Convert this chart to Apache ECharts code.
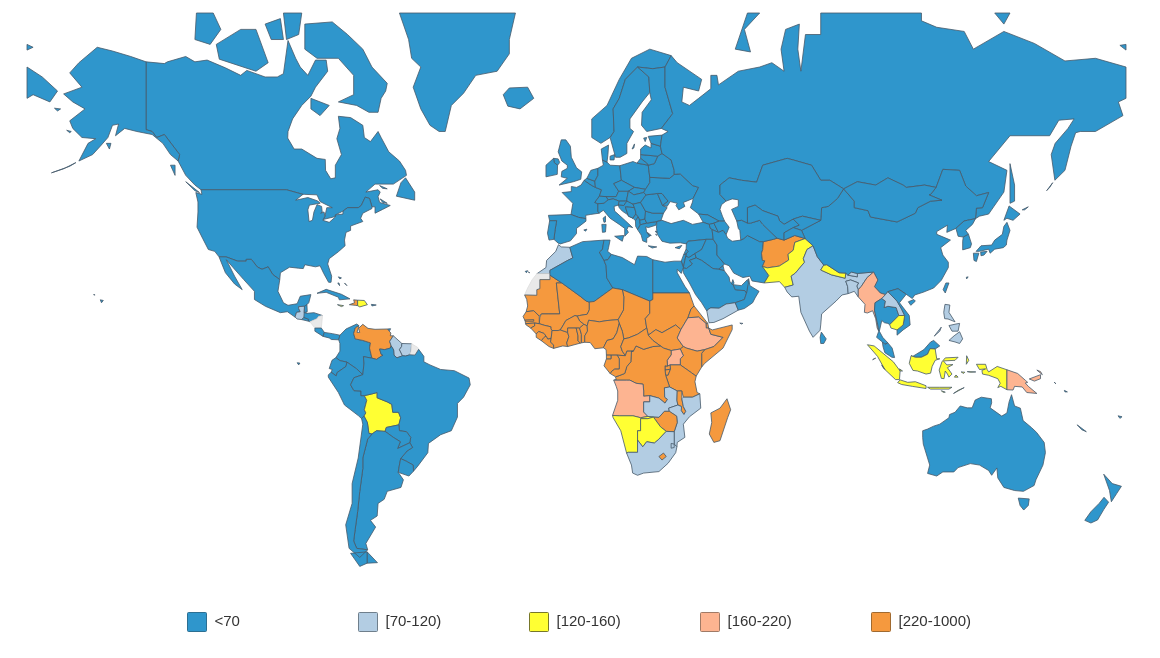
<!DOCTYPE html>
<html><head><meta charset="utf-8">
<style>html,body{margin:0;padding:0;background:#fff}#c{width:1160px;height:658px}</style>
<script src="https://cdn.jsdelivr.net/npm/echarts@6/dist/echarts.min.js"></script>
</head><body><div id="c"></div>
<script>
// Classes and the countries
const classNames = ['<70','[70-120)','[120-160)','[160-220)','[220-1000)'];
const classColors = ['#2f96cc','#b3cde3','#ffff33','#fdb491','#f5993e'];
const legendBorders = ['#2c6f92','#6f7f8c','#77772a','#a07a66','#a06a30'];
const class70to120 = ['Morocco','Yemen','Zambia','Mozambique','South Africa','Swaziland','India','Bangladesh','Bhutan','Laos','Philippines','Guatemala','Guyana','Suriname'];
const class120to160 = ['Bolivia','Namibia','Botswana','Pakistan','Nepal','Cambodia','Indonesia','Dominican Rep.','Jamaica'];
const class160to220 = ['Angola','Ethiopia','Uganda','Myanmar','Papua New Guinea'];
const class220up = ['Afghanistan','Venezuela','Haiti','Mauritania','Mali','Niger','Chad','Sudan','South Sudan','Eritrea','Djibouti','Senegal','Gambia','Guinea-Bissau','Guinea','Sierra Leone','Liberia',"Cote d'Ivoire",'Ghana','Togo','Benin','Burkina Faso','Nigeria','Cameroon','Central African Rep.','Eq. Guinea','Gabon','Congo','DR Congo','Kenya','Tanzania','Somalia','Malawi','Zimbabwe','Madagascar','Lesotho','Rwanda','Burundi'];
const noData = ['Western Sahara','Nicaragua','French Guiana'];

// Simplified country outlines, flat lon,lat rings
const outlines = {
Canada:[[-141,69.6,-135,69.4,-134,69.6,-128,70.2,-125,69.6,-121,69.8,-115,68.9,-110,68,-108,68.6,-102,67.8,-98,67.8,-96,68.2,-94.5,71.9,-92,70,-90.5,69,-88,68,-85.5,69.8,-82,69.8,-81.5,68.5,-85.5,66.5,-87,65.3,-90,64,-93,62,-94.5,60,-94.6,58.9,-92.5,57,-90,57,-85,55.3,-82.3,55.1,-82.2,53,-80.5,51.3,-79,51.5,-79,54,-77,56,-78.5,58.8,-77.5,60.5,-78,62.4,-74,62.2,-70,61,-69.5,59,-67.5,58.3,-65,60,-64,59,-61.5,56.5,-58,54.8,-56,53,-55.7,52,-60,50.2,-66,50.2,-69,48.5,-65,49,-64.3,48.5,-65,47.5,-64.5,46.2,-61,45.5,-63.5,44.6,-66,43.7,-66,45.2,-67,45.2,-67.8,47.1,-69.2,47.4,-70.5,45.5,-71.5,45,-75,45,-76.5,44.2,-79,43.3,-79,42.9,-83,42.2,-82.4,43,-81.8,45,-80,45,-84,46.4,-85,47.9,-89,48,-89.6,48,-95,49,-123,49,-125,50,-128,52,-130.5,54.8,-130,56,-135,59.5,-137.5,59,-139,60,-141,60.3],
[-80,73.7,-75,72.5,-70,71,-67,69,-62,67,-62.5,66,-64,65,-65,63,-68,63,-72,64,-78,64.5,-73,65.5,-73,68,-78,70,-85,70,-89,71,-89,73.5],
[-117,69.9,-105,68.5,-101,69.5,-105,73,-110,73,-118,71.5],[-125,72,-120,71.5,-116.5,73,-119,74.5,-124.5,74.5],[-96,74.5,-90,74.5,-91,72.5,-95,72],[-102,73.5,-97,74,-96,72,-100,72],
[-87,65,-81,64,-84,62.5,-87,63.5],[-59,47.6,-53,46.7,-53,48.5,-56,51.5,-57.5,50.5],[-128,50.7,-123.5,48.4,-125,48.8],[-133,54,-131.5,52,-131.5,54],[-64.5,49.9,-62,49.2,-63.5,49.3],[-64.3,47,-62,46,-63.5,46.2]],
'United States':[[-123,49,-95,49,-89.6,48,-92,46.7,-88,47.3,-85,46.6,-84.5,46.4,-84,46,-85,45.9,-87.5,45.6,-88,44.5,-87.6,41.7,-86.5,42,-86,44,-85,45.7,-83.5,45.3,-83.3,44,-83.8,43.7,-82.7,44,-82.4,43,-83.1,42,-83,41.8,-81,41.5,-79,42.8,-79,43.3,-76.5,43.5,-76.5,44.2,-75,45,-71.5,45,-70.5,45.5,-69.2,47.4,-67.8,47.1,-67,45.2,-67,44.8,-70,43.7,-70.7,42.5,-70,41.7,-74,40.6,-74,39.5,-75.5,39,-76,37,-75.8,35.5,-78,33.9,-81,32,-81.5,30.5,-80.2,27,-80.4,25.2,-81.2,25.2,-82.8,27.8,-84,30,-85.5,29.7,-89,30.3,-89.5,29.2,-91,29.3,-94,29.6,-97,28,-97.2,26,-99.5,27.5,-101,29.7,-103,29,-104.5,29.6,-106.5,31.8,-108.2,31.8,-108.2,31.3,-111,31.3,-114.8,32.5,-117.1,32.5,-118.5,34,-120.6,34.5,-122.5,37.5,-124.3,40.3,-124,44,-124,46.3,-124.7,48.4,-122.7,48],
[-141,69.6,-141,60.3,-139,60,-137.5,59,-135,59.5,-130,56,-130.5,54.8,-133,56,-135.5,58,-139,59.5,-144,60,-148,60.5,-151,59.3,-150,61.2,-152,61,-153.5,59,-156,57.5,-158.5,56,-163,54.8,-160,58,-157.5,58.8,-162,59,-165,60.5,-166,61.7,-161,63.5,-165,64.5,-168,65.6,-162,66.5,-166,68.3,-163,69.5,-157,71.2,-152,70.8,-146,70.2],
[-164,54.5,-168,53.3,-172,52.5,-166,53.8],[-154,58,-152.5,58,-153,57],[-171,63.6,-169,63.5,-170,63.2],[-167,60.2,-165.5,60,-166,59.8],[-156,19.9,-155,19.7,-155.6,19],[-158.2,21.5,-157.7,21.4,-158,21.3]],
Greenland:[[-20,74.5,-22,72,-22,70.5,-26,68.5,-33,68,-37,65.7,-41,64,-43,60,-45,60,-48,61,-51,63.5,-53.5,66.5,-51,69,-54,70,-55,72,-58,74.5]],
Iceland:[[-24,65.5,-22,66.4,-16,66.5,-14,65,-18.5,63.5,-22.5,63.9]],
Mexico:[[-117.1,32.5,-114.8,32.5,-111,31.3,-108.2,31.3,-108.2,31.8,-106.5,31.8,-104.5,29.6,-103,29,-101,29.7,-99.5,27.5,-97.2,26,-97.8,22.5,-96,19,-94.5,18.2,-91.5,18.7,-90.5,21,-87,21.5,-87.7,19,-88.3,18.4,-89.1,17.9,-91,17.8,-91,17.2,-90.5,16.2,-91.7,16,-92.2,14.5,-94.7,16.2,-97,15.9,-101.9,17.9,-105.5,20,-105.5,22.5,-109,26,-112.5,29.5,-114.7,31.7,-112,27,-109.5,23,-112,24.7,-115,28]],
Guatemala:[[-92.2,14.5,-91.7,16,-90.5,16.2,-91,17.2,-91,17.8,-89.1,17.9,-89.2,15.9,-88.2,15.7,-89.3,14.4,-90,13.7,-91.5,13.9]],
Belize:[[-88.3,18.4,-88.2,16.2,-89.2,15.9,-89.1,17.9]],
'El Salvador':[[-90,13.7,-89.3,14.4,-87.7,13.8,-87.8,13.2]],
Honduras:[[-89.2,15.9,-88.2,15.7,-86,15.9,-83.2,15,-84.5,14.7,-85,14,-87.3,13,-87.8,13.2,-87.7,13.8,-89.3,14.4]],
Nicaragua:[[-83.2,15,-83.6,11,-85.7,11,-87.3,13,-85,14,-84.5,14.7]],
'Costa Rica':[[-83.6,11,-82.6,9.6,-83,8.3,-85.7,10,-85.7,11]],
Panama:[[-83,8.3,-82.6,9.6,-80,9.2,-77.5,8.7,-77.9,7.2,-80.3,7.3,-81,7.8]],
Cuba:[[-85,21.9,-82,23.1,-77,21.6,-74.2,20.2,-77.7,19.9,-78,20.7,-82,22.2]],
Jamaica:[[-78.3,18.4,-76.3,18.1,-77,17.8]],
Haiti:[[-74.4,18.4,-72.5,18.2,-71.7,18.1,-71.7,19.8,-73,19.9,-72.7,19]],
'Dominican Rep.':[[-71.7,18.1,-71,17.7,-68.5,18.4,-69.5,19.7,-71.7,19.8]],
'Puerto Rico':[[-67.2,18.5,-65.6,18.3,-67,18]],
Bahamas:[[-78,26.8,-77,26.5,-77.5,26.2],[-78.2,25,-77.6,24.2,-77.8,25],[-76,25,-75.2,24.2,-75.8,24.8]],
Trinidad:[[-61.9,10.7,-60.9,10.8,-61.2,10.1]],
Colombia:[[-77.9,7.2,-77.5,8.7,-75.5,10.7,-72,12.3,-71.3,11.8,-72.5,11,-73,9.2,-72.5,7.5,-70,7,-67.5,6.2,-67.8,4.5,-67,1.2,-69.8,1.7,-69.6,-0.5,-70,-4.2,-72,-2.3,-75.2,-0.1,-77.5,0.4,-78.8,1.4,-77.5,3.5,-77.5,6]],
Venezuela:[[-71.3,11.8,-71.5,10.9,-71.9,9.6,-71,9.6,-71.4,10.9,-70,12.2,-68.3,10.9,-66,10.6,-62,10.7,-60.8,9.4,-61,8.5,-60,8.5,-61.2,6.7,-60.7,5.2,-61,4.5,-62.8,4,-64.5,4.2,-64,2.5,-63.4,2.2,-65.5,0.8,-67,1.2,-67.8,4.5,-67.5,6.2,-70,7,-72.5,7.5,-73,9.2,-72.5,11]],
Guyana:[[-60,8.5,-57.2,6,-57.3,5,-58,4,-57,2,-58.8,1.3,-59.8,2.2,-59.9,3.9,-60.7,5.2,-61.2,6.7]],
Suriname:[[-57.2,6,-54,5.9,-54.2,3.5,-54.6,2.3,-56,1.9,-57,2,-58,4,-57.3,5]],
'French Guiana':[[-54,5.9,-52,4.7,-51.7,4.1,-52.9,2.2,-54.6,2.3,-54.2,3.5]],
Ecuador:[[-78.8,1.4,-77.5,0.4,-75.2,-0.1,-75.5,-1.5,-78.4,-3.5,-78.7,-4.6,-80.4,-3.4,-80,-2.5,-81,-2.2,-80.1,0.5],[-91.5,-0.3,-90.6,-0.4,-91,-1]],
Peru:[[-75.2,-0.1,-72,-2.3,-70,-4.2,-72.9,-5.2,-74,-7.5,-72.9,-9.4,-70.6,-9.5,-70.6,-11,-69.5,-11,-68.7,-12.5,-69.5,-15.5,-69,-16.5,-69.6,-17.5,-70.4,-18.3,-71.4,-17.4,-76,-14,-78,-10,-81.3,-5,-81.3,-4.3,-80.4,-3.4,-78.7,-4.6,-78.4,-3.5,-75.5,-1.5]],
Bolivia:[[-69.5,-11,-68.7,-12.5,-69.5,-15.5,-69,-16.5,-69.6,-17.5,-68.5,-19.5,-68,-22.8,-67,-23,-65.5,-22,-62.7,-22.2,-62.3,-21,-58.2,-20.2,-57.6,-18,-58.3,-16.3,-60.2,-16.3,-60.5,-13.8,-62,-13,-65.3,-11.7,-65.3,-10,-67.2,-10.5]],
Brazil:[[-60.7,5.2,-59.9,3.9,-59.8,2.2,-58.8,1.3,-57,2,-56,1.9,-54.6,2.3,-52.9,2.2,-51.7,4.1,-50,1.8,-50,0,-48,-1,-44.5,-2.5,-40,-2.9,-35.2,-5.3,-34.8,-7.5,-37,-11.5,-39,-13.5,-39,-17.8,-41,-22,-44.5,-23.2,-48.5,-25.8,-48.7,-28.5,-52,-32.3,-53.4,-33.7,-53.5,-32,-55.8,-30.9,-57.6,-30.2,-55.5,-28,-53.7,-27,-54.6,-25.6,-54.3,-24,-55.7,-22.3,-58,-22,-58.2,-20.2,-57.6,-18,-58.3,-16.3,-60.2,-16.3,-60.5,-13.8,-62,-13,-65.3,-11.7,-65.3,-10,-67.2,-10.5,-69.5,-11,-70.6,-11,-70.6,-9.5,-72.9,-9.4,-74,-7.5,-72.9,-5.2,-70,-4.2,-69.6,-0.5,-69.8,1.7,-67,1.2,-65.5,0.8,-63.4,2.2,-64,2.5,-64.5,4.2,-62.8,4,-61,4.5]],
Paraguay:[[-62.7,-22.2,-62.3,-21,-58.2,-20.2,-58,-22,-55.7,-22.3,-54.3,-24,-54.6,-25.6,-58.6,-27.3,-57.7,-25.3,-60,-24]],
Argentina:[[-65.5,-22,-67,-23,-68.4,-24.5,-70,-30,-70,-33,-71,-39,-71.7,-44,-72.5,-48,-73,-50.5,-72,-52,-68.4,-52.3,-69,-51,-65.8,-47.5,-67.5,-46,-65.3,-45,-65,-42,-63,-41,-62,-39,-57.5,-38,-56.7,-36,-58.4,-34,-58,-32,-57.6,-30.2,-55.5,-28,-53.7,-27,-54.6,-25.6,-58.6,-27.3,-57.7,-25.3,-60,-24,-62.7,-22.2],[-68.6,-52.7,-65.2,-54.8,-68.6,-54.9]],
Chile:[[-70.4,-18.3,-69.6,-17.5,-68.5,-19.5,-68,-22.8,-67,-23,-68.4,-24.5,-70,-30,-70,-33,-71,-39,-71.7,-44,-72.5,-48,-73,-50.5,-72,-52,-68.4,-52.3,-71,-53.8,-74.5,-52,-75.6,-47,-73.5,-42,-73.5,-37,-71.5,-30,-70,-20],[-68.6,-52.7,-68.6,-54.9,-71,-55.5,-74,-53]],
Uruguay:[[-57.6,-30.2,-55.8,-30.9,-53.5,-32,-53.4,-33.7,-54.9,-35,-58.4,-34,-58,-32]],
'United Kingdom':[[-5.7,50,-1,50.7,1.4,51.2,1.7,52.7,0,53.5,-1.7,55.5,-2,57.5,-3.5,58.6,-5,58.6,-6,56.5,-4.8,54.8,-3,54,-3,53.4,-4.8,52.8,-5,51.7,-3,51.4],[-7.5,55.3,-6,55.2,-5.5,54.5,-6.2,54,-7.3,54.5]],
Ireland:[[-6.2,54,-6.3,52.2,-10,51.7,-10,54,-7.5,55.3,-7.3,54.5]],
France:[[2.5,51,1.5,50,0,49.5,-1.7,49.7,-1.7,48.6,-4.7,48.4,-1.2,46,-1.8,43.4,0.7,42.7,3.1,42.4,3,43.2,4.5,43.4,7.4,43.7,7,44.2,7,45.9,6,46.2,7.5,47.6,8.2,49,6.2,49.5,4.8,50],[8.7,42.5,9.5,43,9.5,41.6,9,41.5]],
Spain:[[-1.8,43.4,-9.2,43.2,-8.8,41.9,-6.5,41.9,-7,39.7,-7.4,37.2,-6,36.2,-5.3,36,-2,36.8,0,38.7,0,40,3.1,41.8,3.1,42.4,0.7,42.7],[2.4,39.6,3.4,39.8,3,39.3],[-16.8,28.4,-16,28.6,-16.4,28],[-15.8,28.2,-15.3,28,-15.6,27.8]],
Portugal:[[-8.8,41.9,-9.5,38.8,-9,37,-7.4,37.2,-7,39.7,-6.5,41.9]],
Belgium:[[2.5,51,3.4,51.4,6,50.8,6.2,49.5,4.8,50]],
Netherlands:[[3.4,51.4,4.7,53,7,53.4,7,52,6,50.8]],
Germany:[[6,50.8,7,52,7,53.4,8.8,54,8.5,55,10,54.6,11,54,14.2,53.9,14.7,51,12.2,50.3,13.8,48.7,13,47.5,9.7,47.5,7.5,47.6,8.2,49,6.2,49.5]],
Denmark:[[8.5,55,8.1,57,10.5,57.7,10.3,56,10,54.6],[11,55.7,12.5,56,12.3,55,11,55]],
Switzerland:[[6,46.2,7.5,47.6,9.7,47.5,10.4,46.8,9,46,7,45.9]],
Austria:[[9.7,47.5,13,47.5,13.8,48.7,17,48.7,16.5,47,16.5,46.5,14,46.5,12,47,10.4,46.8]],
Italy:[[7,45.9,9,46,10.4,46.8,12,47,14,46.5,13.7,45.6,12.3,45.3,12.5,44.2,13.6,43.5,16,41.9,18.4,40.2,17,40.5,16.5,39.7,17,39,15.8,38,15.8,40,14,41,11,42.5,8.8,44.4,7.4,43.7,7,44.2],[12.5,38,15.5,38.2,15,36.7],[8.3,41,9.7,41,9.5,39.1,8.5,39]],
Poland:[[14.2,53.9,18.5,54.7,19.8,54.4,23.5,54,24,51.6,24,50.5,22.6,49.1,19,49.5,14.7,51]],
Czechia:[[12.2,50.3,14.7,51,19,49.5,17,48.7,13.8,48.7]],
Slovakia:[[17,48.7,19,49.5,22.6,49.1,22,48.4,18.8,47.9]],
Hungary:[[16.5,47,17,48.7,18.8,47.9,22,48.4,22.8,47.9,21,46.2,18.5,45.8,16.5,46.5]],
Slovenia:[[14,46.5,16.5,46.5,15.5,45.5,13.7,45.6]],
Croatia:[[15.5,45.5,16.5,46.5,18.5,45.8,19,45,16,45.2,17,43,18.5,42.5,15,44.2,14,45,13.7,45.6]],
Bosnia:[[16,45.2,19,45,19.4,44,19.4,43.5,18.5,42.5,17,43]],
Serbia:[[18.5,45.8,21,46.2,22.6,44.2,22.5,43,22.4,42.3,20.7,42,20.2,42.8,19.4,43.5,19.4,44,19,45]],
Montenegro:[[18.5,42.5,19.4,43.5,20.2,42.8,19.3,41.9]],
Albania:[[19.3,41.9,20.2,42.8,20.7,42,20.9,40.9,20,39.7,19.4,40.5]],
Macedonia:[[20.7,42,22.4,42.3,23,41.3,20.9,40.9]],
Greece:[[20,39.7,20.9,40.9,23,41.3,26.3,41.7,26,40.8,23.5,40.2,22.7,40.4,23,39,24,38,23,37.5,23,36.4,21.7,36.8,21.2,38.3],[23.5,35.5,26.3,35.2,24.8,34.9],[23.2,39,24.5,38.2,23.8,38.2],[25.8,39.3,26.6,39.2,26.2,38.9],[26,38.6,26.2,38.2,25.9,38.2]],
Bulgaria:[[22.5,43,22.6,44.2,25,43.7,28.5,43.7,27.7,42,26.3,41.7,23,41.3,22.4,42.3]],
Romania:[[21,46.2,22.8,47.9,26.5,48.2,28.2,45.5,29.7,45,28.5,43.7,25,43.7,22.6,44.2]],
Moldova:[[26.5,48.2,28,48.2,30,46.5,28.2,45.5]],
Ukraine:[[24,50.5,24,51.6,30.5,51.4,32,52.2,34,52.3,38,49.9,40,49.5,38.2,47.1,35,46.2,35.5,45.3,33.5,44.5,32.6,45.5,33,46,30.7,46.4,29.7,45.3,28.2,45.5,30,46.5,28,48.2,26.5,48.2,22.8,47.9,22,48.4,22.6,49.1]],
Belarus:[[23.5,54,24,51.6,30.5,51.4,32,52.2,32,53,31,55,28,56.2,26.6,55.7,25.5,54.3]],
Lithuania:[[21,56,26.6,55.7,25.5,54.3,23.5,54,23,54.4,21,55.3]],
Latvia:[[21,56,21,57,22.5,57.7,24.4,57.2,24.4,58,27.5,57.5,28,56.2,26.6,55.7]],
Estonia:[[23.5,59.2,28,59.4,27.5,57.5,24.4,58],[22,58.9,23,59,22.5,58.3]],
Norway:[[5,59,5,62,10,64,14,67.5,18,70,24,71,31,70.3,29,69,25,68.8,20,69,16,67.5,14,65,12,63.5,12.3,60,11,59,8,58]],
Sweden:[[11,59,12.3,60,12,63.5,14,65,16,67.5,20,69,23.7,67.8,24,65.8,21.5,64.5,17.5,62,17.5,60.5,18.7,60,16.5,58,16.5,56.2,14.3,55.5,12.8,55.5],[18.2,57,19,57.9,18.8,57.2]],
Finland:[[20,69,25,68.8,29,69,29,66.5,31.5,62.8,27.8,60.5,23,60,21.3,61,21.5,63,24.5,64.8,24,65.8,23.7,67.8]],
Russia:[[28,59.4,30,60,27.8,60.5,31.5,62.8,29,66.5,29,69,31,70.3,33,69.5,41,67.5,40,66,35,66.5,34.5,64.5,37,64,40,65,44,66.3,44,68,46,68,46.5,66.8,53,68.5,60,69,64,69.5,68,68.5,67,71,68.5,73,73,73.5,72.5,71,73.5,68.5,75,72.5,80,72.5,80,74.5,113,74.5,113,73.8,118,73.2,127,72.8,130,71,140,72.8,150,71.6,160,69.7,170,70,180,69,180,65,177.5,64.5,179,62.5,170,60,165,60,163.5,59.8,162,57.5,160,53,156.7,51,155.5,56,156.8,58,161,60.5,163,62,158,61.8,155,59.3,142,59.3,135,54.7,141,53,140,48.5,135,43.5,132,43,130.7,42.4,131,44.9,133,45,135,48.4,131,47.7,127.5,49.8,125.5,53,120,53.2,117.8,49.5,114,50,108,49.5,107,50,102,51.5,98,50,92,50.7,87.5,49.2,83,51,80,51,77,54,71,55,69,55.3,61,54,59,50.6,54,51,50,51.5,47,50,47,48,49,46.5,47.5,45.7,47,44.6,47.8,43,48.5,41.8,46.7,41.8,43,43.3,40,43.5,37.3,45,38,46.3,38.2,47.1,40,49.5,38,49.9,34,52.3,32,52.2,32,53,31,55,28,56.2,27.5,57.5],
[-180,69,-175,67.8,-170,66,-172.5,64.5,-178,65.5,-180,65],[-180,71.5,-178,71.2,-180,70.9],[178,71.4,180,71.5,180,70.9],[52,71,57,70.7,55,73,60,74.5,56,74.5],[142,54.3,143.5,50,143.5,46.5,142,46,142,50],[19.8,54.4,21,55.3,23,54.4,23.5,54],[137,74.5,142,74.5,140,73.5],[146,44.5,148,45.2,146.8,44.5],[154,48.8,156,50.5,155,49.5]],
Georgia:[[40,43.5,43,43.3,46.7,41.8,45,41.3,43.5,41,41.5,41.5]],
Armenia:[[43.5,41,45,41.3,46.5,39,44.4,39.7,43.7,40.1]],
Azerbaijan:[[45,41.3,46.7,41.8,48.5,41.8,50,40.3,49,38.4,48,39.5,46.5,39]],
Turkey:[[26.3,41.7,28,42,31,41.2,35,42,38,41,41.5,41.5,43.5,41,43.7,40.1,44.4,39.7,44.8,37.2,42.5,37.2,36.5,36.7,36,36,34,36.3,30.6,36.2,28,36.7,26.5,38.5,26.2,40]],
Cyprus:[[32.3,35,34.5,35.6,33.7,34.7]],
Syria:[[36,36,36.5,36.7,42.5,37.2,41,34.5,38.8,33.4,36.8,32.3,35.8,32.7,35.9,33.3,36.5,34,35.9,34.6]],
Lebanon:[[35.1,33.1,35.9,34.6,36.5,34,35.9,33.3]],
Israel:[[34.3,31.3,35.1,33.1,35.9,33.3,35.8,32.7,35.5,31.5,35,29.5]],
Jordan:[[35,29.5,35.5,31.5,35.8,32.7,36.8,32.3,38.8,33.4,39.2,32.2,37,31.5,38,30.5,36,29.2]],
Iraq:[[38.8,33.4,41,34.5,42.5,37.2,44.8,37.2,46,35.7,46,33,48.5,30.5,48,30,46.5,29,44.7,29.2,41,31.5,39.2,32.2]],
Kuwait:[[48,30,48.4,28.6,46.5,29]],
'Saudi Arabia':[[34.9,29.4,36,29.2,38,30.5,37,31.5,39.2,32.2,41,31.5,44.7,29.2,46.5,29,48.4,28.6,50,26.7,50.2,25.5,51.3,24.5,52,23,55.2,22.7,55.7,22,55,20,52,19,49,18.6,46.7,17.3,44,17.4,43.2,17,42.7,16.4,41,19,39,21.5,37,25,35,28]],
Yemen:[[42.7,16.4,43.2,17,44,17.4,46.7,17.3,49,18.6,52,19,53,16.7,48,14,45,12.8,43.4,12.7],[53.5,12.6,54.5,12.5,54,12.3]],
Oman:[[52,19,55,20,55.7,22,56,24.5,56.4,26.3,56.8,24.2,59.8,22.5,58.5,20.5,57.7,19,55,17.2,53,16.7]],
UAE:[[51.3,24.5,54,24.2,56,26,56.3,25,55.7,22,55.2,22.7,52,23]],
Qatar:[[50.8,24.7,51.2,26,51.6,25,51.3,24.5]],
Iran:[[44.8,37.2,44.4,39.7,46.5,39,48,39.5,49,38.4,49.5,37.5,51,36.7,53.8,37,54.8,37.4,56,38.2,60,36.6,61.2,36.6,61,34.5,60.6,33.5,60.9,31.5,61.7,31.4,60.9,29.8,63,27.2,61.5,25,57.5,25.6,56.8,27,54.5,26.6,51.5,27.9,50,30,48.5,30.5,46,33,46,35.7]],
Afghanistan:[[61.2,36.6,64.5,37.2,65.7,37.5,68,37,71.5,38.2,74.9,37.4,71.5,36.4,71,34.3,69.3,33.2,69.5,31.6,66.4,29.9,62.5,29.4,60.9,29.8,61.7,31.4,60.9,31.5,60.6,33.5,61,34.5]],
Pakistan:[[60.9,29.8,62.5,29.4,66.4,29.9,69.5,31.6,69.3,33.2,71,34.3,71.5,36.4,74.9,37.4,77.5,35.5,75.5,34.5,74.3,32,74.7,31,71.7,27.9,70.3,27,71,24.4,68.2,23.7,66.5,25.4,61.5,25,63,27.2]],
India:[[77.5,35.5,78.9,32.5,81,30.2,80,28.8,83.5,27.4,88,26.4,88.2,27.9,88.9,27.3,92,26.8,92,27.8,97.3,28.2,95.2,26.6,93.3,24,92.3,23,91.8,24.1,92.4,25,89.8,25.9,88.2,25.5,88.8,24,89,21.8,87,21.4,85,19.5,80.3,15.5,80,12,79.8,10.3,77.5,8,76.3,10,73.5,16,72.8,21,70.5,20.8,69,22.3,68.2,23.7,71,24.4,70.3,27,71.7,27.9,74.7,31,74.3,32,75.5,34.5]],
Nepal:[[80,28.8,81,30.2,82,30.3,86,28,88.2,27.9,88,26.4,83.5,27.4]],
Bhutan:[[88.9,27.3,90,28.2,92,27.8,92,26.8]],
Bangladesh:[[88.2,25.5,89.8,25.9,92.4,25,91.8,24.1,92.3,23,92.3,20.8,91,22.5,89,21.8,88.8,24]],
'Sri Lanka':[[79.8,8,80.2,9.7,81.8,7.5,81,6,80,6]],
China:[[87.5,49.2,85.5,47.1,82.5,45.3,80.3,45,80,42,73.7,39.5,74.9,37.4,77.5,35.5,78.9,32.5,81,30.2,82,30.3,86,28,88.2,27.9,88.9,27.3,90,28.2,92,27.8,97.3,28.2,98.7,25.9,97.6,23.9,99.5,22,101.2,21.5,102,22.4,105.3,23.3,108,21.6,110,20.3,110.8,21.4,113.5,22.2,117,23.5,119.5,25.8,121.8,29.5,121.8,31,120,33,119.3,35,122.5,37,118,38.5,118,39.2,121.5,40.8,121.3,39,124.3,40,126.9,41.8,128,42,130.7,42.4,131,44.9,133,45,135,48.4,131,47.7,127.5,49.8,125.5,53,120,53.2,117.8,49.5,116,48,115.5,47.9,119.7,46.7,116,46.5,111.8,45,111,43.7,105,41.6,96.3,42.8,95.5,44.3,91,45,91,46.5],[108.7,19.3,110.5,20,111,19.5,109.5,18.2]],
Taiwan:[[121,25,122,25,120.8,22,120.1,23]],
Mongolia:[[87.5,49.2,92,50.7,98,50,102,51.5,107,50,108,49.5,114,50,117.8,49.5,116,48,115.5,47.9,119.7,46.7,116,46.5,111.8,45,111,43.7,105,41.6,96.3,42.8,95.5,44.3,91,45,91,46.5]],
'North Korea':[[124.3,40,126.9,41.8,128,42,130.7,42.4,129.7,41,127.5,39.5,128.4,38.5,126.7,37.8,125,38]],
'South Korea':[[126.7,37.8,128.4,38.5,129.4,36,129,35,126.5,34.4,126.5,36.7]],
Japan:[[130.9,34,132.5,35.5,136,35.7,137,37,139.5,38.5,140,40.5,141,41.5,142,39.5,141,37,140.8,35.7,139.8,35,137,34.6,135.5,33.5,135,34.6,132,34],[130,33.5,131.8,33.5,131,31.2,130.2,31.5],[132.4,33.8,134.5,34,133.5,33,132.5,32.8],[140,42,141.7,45.4,145.3,43.5,143,42,141,42.5],[127.7,26.7,128.3,26.8,127.8,26.2]],
Kazakhstan:[[47,50,50,51.5,54,51,59,50.6,61,54,69,55.3,71,55,77,54,80,51,83,51,87.5,49.2,85.5,47.1,82.5,45.3,80.3,45,80,42,74,43,71,42.3,68,41,66.5,41.9,66,43,61,44.3,58.5,45.6,56,45,56,41.3,54,42,52.5,41.8,50.8,44.6,53,45.3,53,46.8,51,47,49,46.5,47,48]],
Turkmenistan:[[52.5,41.8,54,42,56,41.3,57,41.3,60,42,61,41,65.7,37.5,64.5,37.2,61.2,36.6,60,36.6,56,38.2,54.8,37.4,53.8,37,53.5,39.5,53,40]],
Uzbekistan:[[56,45,58.5,45.6,61,44.3,66,43,66.5,41.9,68,41,71,42.3,73,40.8,71,40.2,68,38.9,68,37,65.7,37.5,61,41,60,42,57,41.3,56,41.3]],
Kyrgyzstan:[[71,42.3,74,43,80,42,73.7,39.5,71,40.2,73,40.8]],
Tajikistan:[[68,38.9,71,40.2,73.7,39.5,74.9,37.4,71.5,38.2,68,37]],
Myanmar:[[92.3,20.8,92.3,23,93.3,24,95.2,26.6,97.3,28.2,98.7,25.9,97.6,23.9,99.5,22,101.2,21.5,100,20.3,97.8,19,97.6,16.7,98.7,12,99,10,98.5,11,98,14,97,16.5,95.3,15.8,94.3,16,94.5,18.5]],
Thailand:[[100,20.3,101.2,19.5,100.8,17.5,102,17.9,104.7,17.5,105.6,15,102.6,12.1,102,12.5,100.9,12.7,100,13.4,99.2,10,100.3,8,102,6.2,101,5.7,100.2,6.5,98.3,8,99,10,98.7,12,97.6,16.7,97.8,19]],
Laos:[[101.2,21.5,102,22.4,105,19.5,106.5,17,107.5,15,105.6,15,104.7,17.5,102,17.9,100.8,17.5,101.2,19.5,100,20.3]],
Vietnam:[[102,22.4,105.3,23.3,108,21.6,105.8,19,109,15,109.3,12,107,10.4,105,8.7,105,10.4,107,12,107.5,15,106.5,17,105,19.5]],
Cambodia:[[102.6,12.1,105.6,15,107.5,15,107,12,105,10.4,103,11]],
Malaysia:[[100.2,6.5,101,5.7,102,6.2,103.4,4.5,104.2,1.4,103.3,1.5,101,3,100.4,5],[109.6,2,111,1.5,113,1.5,115,2.5,115.8,4.3,117.5,4.2,119,5.2,117,7,116,6.5,113.8,4,111.3,2.5,110,1.7]],
Indonesia:[[109.6,2,111,1.5,113,1.5,115,2.5,115.8,4.3,117.5,4.2,118,1,119,1,117.5,0.5,116.5,-1.5,116,-3.7,114.5,-4,111.7,-3,110.2,-2.8,109,-0.5],[95.3,5.6,97.5,5.2,103.8,0,106,-3,105.8,-5.8,104.5,-5.8,101,-2.5,98.6,1.8],[105.2,-6.8,106,-5.9,108.5,-6.7,111,-6.5,114.5,-7.8,114.5,-8.7,110,-8,106.5,-7.4],[115,-8.3,119,-8.3,123,-8.3,122,-8.9,116,-8.9],[123.5,-10.3,127,-8.4,125,-9.3],[119.5,-9.4,120.8,-9.9,120,-9.9],[119.7,0,120.8,1.3,125,1.5,124,0.5,120.2,0.3,121.3,-1,123.3,-0.9,121.5,-1.9,123,-4,122,-5,121.5,-4,120.8,-3,120.4,-5.5,119.5,-5.4,118.8,-2.7],[127.8,2,128.5,0.5,127.7,-0.8],[128,-3.2,130.8,-3.3,129,-3.4],[126,-3.3,127.2,-3.4,126.8,-3.8],[131,-0.8,134,-0.8,134.5,-2.5,135,-3.3,137.8,-1.5,141,-2.6,141,-9.1,139,-8,138,-8.4,138.8,-7,138,-5.5,135,-4.4,133,-4,132.8,-2.8,134,-2.3,132,-2.5],[124.3,-4.3,125,-5,123.8,-5],[98,1.2,97,0.7,97.6,1.1],[100,-1,101,-2.5,100.3,-1.7],[105.8,-2.3,106.8,-3,106,-3]],
'Papua New Guinea':[[141,-2.6,144.5,-3.8,147,-6,147.8,-6.7,147,-6.9,148,-8,150.8,-10.3,147.5,-10,146,-8.2,143.5,-8,143,-9.2,141,-9.1],[148.3,-5.6,152,-4.2,152,-5.5,150,-6.3],[150.8,-2.7,152.6,-4.2,152,-3.2]],
Philippines:[[120.3,16,120.7,18.5,122.3,18.3,122,16,124,13,121.7,13.9,120.6,14],[122,7,123.7,8.5,125.5,9.8,126.5,7.5,125.5,6,124,6.5],[122,11.8,123,10,125,10,125.5,12.5,124.3,12.3],[117.2,8.4,119.5,11.3,119,10]],
Australia:[[113.4,-22,115,-21.5,117,-20.6,119,-20,122,-18,122.2,-17,124,-16.3,125.7,-14.3,128,-14.9,129.6,-14.9,130.6,-12.4,132.6,-11.5,135.9,-12,136,-13.3,135.5,-14.9,139.3,-17.5,141,-16.5,141.7,-13,142.5,-10.7,143.5,-14.3,145.4,-15,146.3,-18.9,149,-21,150.7,-22.5,153.2,-25.5,153.6,-28.5,152.8,-32,150.5,-36,149.9,-37.5,146.4,-39,143.5,-38.8,140,-38,138,-35.5,137.7,-32.8,136,-34.8,135,-33.5,132,-32,129,-31.6,125,-32.7,123.6,-33.9,120,-33.9,118,-35,115,-34.3,115.7,-32,113.6,-26,113.4,-24],[144.7,-40.7,148.3,-40.9,148,-42.5,146.5,-43.6,145.3,-42.5]],
'New Zealand':[[172.7,-34.5,175.5,-37,178.5,-37.7,177,-39.5,175.2,-41.6,174.6,-38.8],[172.8,-40.5,174.3,-41.7,172.7,-43.5,170.7,-45.9,168.5,-46.6,166.5,-46,168.5,-44,171.2,-42]],
'New Caledonia':[[164,-20.2,167,-22.3,165.5,-21.7]],
Fiji:[[177.4,-17.4,178.7,-17.7,178,-18.2]],
Solomon:[[159.8,-9.3,160.8,-9.8,160,-9.8],[156.5,-6.6,157,-7.2,156.7,-7.2]],
Morocco:[[-5.9,35.8,-5,35.2,-2.2,35.1,-1.2,32.2,-2.9,31.5,-8.7,28.7,-8.7,27.7,-13,27.7,-10,29.5,-9.8,31.5,-6.8,34]],
'Western Sahara':[[-13,27.7,-8.7,27.7,-8.7,27.3,-8.7,26,-12,26,-12,23.3,-13,23,-13,21.3,-17,21.4,-16,23.5,-14.5,26]],
Mauritania:[[-17,21.4,-13,21.3,-13,23,-12,23.3,-12,26,-8.7,26,-8.7,27.3,-4.8,25,-6.6,25,-5.5,15.5,-9.3,15.5,-11.5,15.5,-12.2,14.8,-14,16.5,-16.5,16.2,-16,18,-16.3,20]],
Mali:[[-4.8,25,1.2,21,3.2,19.5,4.2,19.2,4.2,16.8,3.5,15.4,1,15,0.2,14.8,-0.5,15,-2,14.2,-3.5,13.4,-4.3,12,-5.3,10.4,-6,10.2,-8,10.2,-8.4,10.8,-8.4,11.4,-10.6,11.9,-12.2,12.4,-12,14.5,-12.2,14.8,-11.5,15.5,-9.3,15.5,-5.5,15.5,-6.6,25]],
Algeria:[[-2.2,35.1,2,36.6,9,37,8.5,34.5,7.5,33.8,9,31.5,9.7,30,9.9,26.5,11.9,23.5,5.8,19.4,4.2,19.2,3.2,19.5,1.2,21,-4.8,25,-8.7,27.3,-8.7,28.7,-2.9,31.5,-1.2,32.2]],
Tunisia:[[9,37,11,37,10.5,35,10.2,34,11.4,33.2,10.3,31.7,9,31.5,7.5,33.8,8.5,34.5]],
Libya:[[11.4,33.2,15,32.3,19,30.3,20,32.7,23,32.6,25,31.7,25,22,25,20,24,19.5,15,23,11.9,23.5,9.9,26.5,9.7,30,9,31.5,10.3,31.7]],
Egypt:[[25,31.7,29,31,32,31.3,34.3,31.3,35,29.5,34.3,27.8,33,29,33,28,35.5,24,37,22,25,22]],
Chad:[[15,23,24,19.5,24,15.7,22.5,14,23,11,20,9,17,7.8,15.5,7.5,15,10,14,12.5,13.6,13.7,15.4,16.8,15.5,20.8]],
Niger:[[11.9,23.5,15,23,15.5,20.8,15.4,16.8,13.6,13.7,10,13.4,7.5,13,4,13.5,3.5,11.7,2.4,12.2,1,13.3,0.2,14.8,1,15,3.5,15.4,4.2,16.8,4.2,19.2,5.8,19.4]],
Sudan:[[24,19.5,25,20,25,22,37,22,38.5,18,37.5,17,36.5,14.3,34.2,10.5,32.5,12,28,9.5,26,10.5,23.5,8.7,23,11,22.5,14,24,15.7]],
'South Sudan':[[23.5,8.7,26,10.5,28,9.5,32.5,12,34.2,10.5,33,7.8,35,5,34,4.2,31,3.7,28.5,4.5,27.5,5.2,25,7]],
Eritrea:[[36.5,14.3,37.5,17,38.5,18,43,12.5,42.4,12.5,40,14.5]],
Djibouti:[[42.4,12.5,43,12.5,43.3,11,42.5,11]],
Ethiopia:[[36.5,14.3,40,14.5,42.4,12.5,42.5,11,43.3,11,44,9,48,8,45,5,42,4,39.5,3.5,36,4.5,35,5,33,7.8,34.2,10.5]],
Somalia:[[43.3,11,44.5,10.4,51,12,51,10.5,48,4.5,42,-0.5,41,-1.7,41,2.8,42,4,45,5,48,8,44,9]],
Kenya:[[35,5,36,4.5,39.5,3.5,42,4,41,2.8,41,-1.7,39.2,-4.7,37.7,-3.6,34,-1,34,1,35,2,34,4.2]],
Uganda:[[31,3.7,34,4.2,35,2,34,1,34,-1,30.7,-1,29.8,-1.4,29.7,0.5,31,2.3]],
Rwanda:[[29,-1.3,29.8,-1.4,30.7,-1,30.8,-2.4,29,-2.7]],
Burundi:[[29,-2.7,30.8,-2.4,30,-4.4,29.2,-4.4]],
Tanzania:[[30.7,-1,34,-1,37.7,-3.6,39.2,-4.7,38.8,-6.5,39.5,-10,40.4,-10.4,38,-11.5,35,-11.5,34.5,-9.5,33,-9.5,30.5,-8.2,29.2,-4.4,30,-4.4,30.8,-2.4]],
'DR Congo':[[12.2,-6,13,-5.8,12.8,-4.9,14,-4.5,15.8,-3.8,16.5,-1.5,17.8,0,18,3.5,18.6,3.5,19.5,5.2,22,4.1,25,5,27.5,5.2,28.5,4.5,31,3.7,31,2.3,29.7,0.5,29.8,-1.4,29,-1.3,29,-2.7,29.2,-4.4,30.5,-8.2,28.8,-8.5,28.9,-11.5,29.8,-12.2,29,-13.4,27,-11.8,24,-11,22,-11.2,22,-9.5,21.8,-7.3,19.5,-7,17.5,-6,16.3,-6]],
Angola:[[12.2,-6,16.3,-6,17.5,-6,19.5,-7,21.8,-7.3,22,-9.5,22,-11.2,24,-11,24,-13,22,-13,22,-16.2,23.4,-17.6,21,-18,18.5,-17.4,14,-17.4,11.8,-17.3,13.5,-12.5,13.5,-9.5,13,-8]],
Zambia:[[24,-11,27,-11.8,29,-13.4,29.8,-12.2,28.9,-11.5,28.8,-8.5,30.5,-8.2,33,-9.5,32.9,-12.5,33.2,-14,30.2,-15,30.4,-16,28.8,-16,27,-17.9,25.2,-17.8,23.4,-17.6,22,-16.2,22,-13,24,-13]],
Malawi:[[33,-9.5,34.5,-9.5,34.5,-12,35,-14.5,35.8,-16,35.2,-17,34.3,-15.8,34.4,-14.5,33.2,-14,32.9,-12.5]],
Mozambique:[[35,-11.5,38,-11.5,40.4,-10.4,40.7,-15,37,-17.7,35,-20,35.5,-24,33,-25.5,32.9,-26.8,32,-26,32,-22.3,33,-19.5,32.8,-17.5,30.4,-16,30.2,-15,33.2,-14,34.4,-14.5,34.3,-15.8,35.2,-17,35.8,-16,35,-14.5,34.5,-12]],
Zimbabwe:[[25.2,-17.8,27,-17.9,28.8,-16,30.4,-16,32.8,-17.5,33,-19.5,32,-22.3,29.4,-22.2,27.5,-20.8,25.8,-18.6]],
Namibia:[[11.8,-17.3,14,-17.4,18.5,-17.4,21,-18,23.4,-17.6,25.2,-17.8,23.4,-18.3,21,-18.3,21,-22,20,-22,20,-28.4,17,-28.4,16.4,-28.6,14.5,-22,12,-18]],
Botswana:[[21,-18.3,23.4,-18.3,25.2,-17.8,25.8,-18.6,27.5,-20.8,29.4,-22.2,26.8,-24.7,25.5,-25.7,23,-25.3,21.7,-26.8,20,-24.8,20,-22,21,-22]],
'South Africa':[[16.4,-28.6,17,-28.4,20,-28.4,20,-24.8,21.7,-26.8,23,-25.3,25.5,-25.7,26.8,-24.7,29.4,-22.2,32,-22.3,32,-26,32.9,-26.8,32.5,-28.5,30,-31.5,27,-33.8,22,-34.2,20,-34.8,18.4,-34.2,18,-32]],
Lesotho:[[27,-29.6,28.5,-28.6,29.4,-29.6,28,-30.6]],
Swaziland:[[31,-25.8,32,-26,32,-27,31,-27.2]],
Madagascar:[[49.3,-12,50.5,-15.5,49.5,-18,47,-25,45,-25.5,43.5,-23,44.3,-19.5,44,-16.5,47,-15]],
Senegal:[[-17.5,14.7,-16.5,16.2,-14,16.5,-12.2,14.8,-12,14.5,-12.2,12.4,-13.7,12.6,-16.7,12.4,-16.8,13.2]],
Gambia:[[-16.8,13.6,-14,13.7,-14,13.2,-16.8,13.2]],
'Guinea-Bissau':[[-16.7,12.4,-13.7,12.6,-13.7,11.7,-15,11,-16.5,12]],
Guinea:[[-13.7,12.6,-12.2,12.4,-10.6,11.9,-8.4,11.4,-8.4,10.8,-8,10.2,-8.3,7.7,-9.4,7.4,-10,8.4,-10.7,9.3,-12.4,9.9,-13.2,9.1,-15,11,-13.7,11.7]],
'Sierra Leone':[[-13.2,9.1,-12.4,9.9,-10.7,9.3,-10,8.4,-10.6,8,-11.5,6.9,-13.2,8]],
Liberia:[[-11.5,6.9,-10.6,8,-10,8.4,-9.4,7.4,-8.3,7.7,-8.5,6.5,-7.5,5.5,-7.5,4.4,-9,5]],
"Cote d'Ivoire":[[-7.5,4.4,-7.5,5.5,-8.5,6.5,-8.3,7.7,-8,10.2,-6,10.2,-5.3,10.4,-2.9,9.6,-2.5,8.2,-3.2,6.2,-2.9,5,-4.5,5.2]],
'Burkina Faso':[[-5.3,10.4,-4.3,12,-3.5,13.4,-2,14.2,-0.5,15,0.2,14.8,1,13.3,2.4,12.2,1,11,-0.1,11,-2.9,11,-2.9,9.6]],
Ghana:[[-2.9,5,-3.2,6.2,-2.5,8.2,-2.9,9.6,-2.9,11,-0.1,11,0.5,8.5,0.5,6.9,1.2,6.1]],
Togo:[[1.2,6.1,0.5,6.9,0.5,8.5,-0.1,11,1,11,1.6,9,1.6,6.2]],
Benin:[[1.6,6.2,1.6,9,1,11,2.4,12.2,3.5,11.7,3.6,10,2.7,8.5,2.7,6.4]],
Nigeria:[[2.7,6.4,2.7,8.5,3.6,10,3.5,11.7,4,13.5,7.5,13,10,13.4,13.6,13.7,14,12.5,13.2,9.5,12,7.5,10,7,8.8,4.6,6,4.3,4.5,6.3]],
Cameroon:[[8.8,4.6,10,7,12,7.5,13.2,9.5,14,12.5,15,10,15.5,7.5,14.5,5,15,3.5,16,2,13.3,2.2,9.8,2.2,9.7,4]],
'Central African Rep.':[[15.5,7.5,17,7.8,20,9,23,11,23.5,8.7,25,7,27.5,5.2,25,5,22,4.1,19.5,5.2,18.6,3.5,16.5,3.5,16,2,15,3.5,14.5,5]],
Congo:[[11,-3.8,12.8,-4.9,14,-4.5,15.8,-3.8,16.5,-1.5,17.8,0,18,3.5,18.6,3.5,16.5,3.5,16,2,13.3,2.2,14,1,14,-2.3,12.5,-2.3,11.6,-3]],
Gabon:[[9.8,1,11.3,1,11.3,2.2,13.3,2.2,14,1,14,-2.3,12.5,-2.3,11.6,-3,11,-3.8,9,-1.3]],
'Eq. Guinea':[[9.8,2.2,11.3,2.2,11.3,1,9.8,1]]
};

const toPairs = f => { const r = []; for (let i = 0; i + 1 < f.length; i += 2) r.push([f[i], f[i + 1]]); r.push(r[0]); return r; };
const world = { type: 'FeatureCollection', features: Object.keys(outlines).map(n => ({
  type: 'Feature', properties: { name: n },
  geometry: { type: 'MultiPolygon', coordinates: outlines[n].map(f => [toPairs(f)]) } })) };
echarts.registerMap('world', world);

const classOf = n => class70to120.includes(n) ? 1 : class120to160.includes(n) ? 2 : class160to220.includes(n) ? 3 : class220up.includes(n) ? 4 : 0;
const regionStyles = Object.keys(outlines).map(n => noData.includes(n)
  ? { name: n, itemStyle: { areaColor: '#e9e9e9', borderColor: '#dddddd' } }
  : { name: n, itemStyle: { areaColor: classColors[classOf(n)] } });

const legendLefts = [187, 358, 529, 700, 871];
const chart = echarts.init(document.getElementById('c'), null, { renderer: 'canvas' });
chart.setOption({
  animation: false,
  backgroundColor: '#ffffff',
  geo: {
    map: 'world', silent: true, roam: false,
    left: 27, top: 13, width: 1099,
    boundingCoords: [[-180, 74.5], [180, -60]],
    projection: {
      project: p => [p[0] * Math.PI / 180, -Math.log(Math.tan(Math.PI / 4 + p[1] * Math.PI / 360))],
      unproject: p => [p[0] * 180 / Math.PI, (2 * Math.atan(Math.exp(-p[1])) - Math.PI / 2) * 180 / Math.PI]
    },
    itemStyle: { areaColor: classColors[0], borderColor: '#46596a', borderWidth: 0.8 },
    regions: regionStyles,
    label: { show: false }, emphasis: { disabled: true }
  },
  legend: classNames.map((name, i) => ({
    data: [name], left: legendLefts[i], top: 612, padding: 0, selectedMode: false,
    icon: 'path://M1,0H18Q19,0 19,1V18Q19,19 18,19H1Q0,19 0,18V1Q0,0 1,0Z', itemWidth: 19, itemHeight: 19,
    itemStyle: { color: classColors[i], borderColor: legendBorders[i], borderWidth: 1, opacity: 1 },
    textStyle: { color: '#333333', fontSize: 15, fontFamily: 'Liberation Sans', padding: [5, 0, 0, 3] }
  })),
  series: classNames.map((name, i) => ({ type: 'scatter', coordinateSystem: 'geo', geoIndex: 0, name, data: [], itemStyle: { color: classColors[i], opacity: 1 } }))
});
</script></body></html>
